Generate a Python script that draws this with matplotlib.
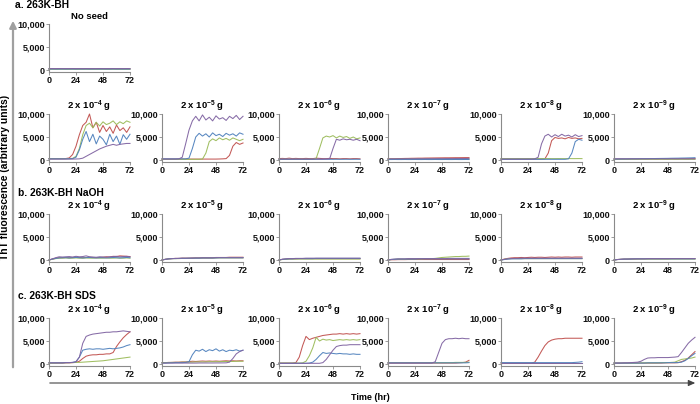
import matplotlib
matplotlib.use("Agg")
import matplotlib.pyplot as plt

plt.rcParams['font.family'] = ['Liberation Sans', 'DejaVu Sans']
plt.rcParams['font.weight'] = 'bold'
plt.rcParams['mathtext.fontset'] = 'custom'
plt.rcParams['mathtext.rm'] = 'Liberation Sans:bold'
plt.rcParams['mathtext.bf'] = 'Liberation Sans:bold'
plt.rcParams['mathtext.default'] = 'rm'

# ---------------- data ----------------
HOURS = [0, 3, 6, 9, 12, 15, 18, 21, 24, 27, 30, 33, 36, 39, 42, 45, 48, 51, 54, 57, 60, 63, 66, 69, 72]
X_TICKS = [0, 24, 48, 72]
Y_TICKS = [0, 5000, 10000]
Y_TICK_LABELS = ["0", "5,000", "10,000"]
EXPONENTS = [-4, -5, -6, -7, -8, -9]
SECTION_LABELS = ["a. 263K-BH", "b. 263K-BH NaOH", "c. 263K-BH SDS"]

# a. no seed
a0_red    = [250, 260, 250, 270, 260, 250, 260, 270, 260, 250, 260, 270, 260, 250, 260, 270, 260, 250, 260, 270, 260, 250, 260, 270, 260]
a0_green  = [150, 160, 150, 150, 160, 150, 150, 160, 150, 150, 160, 150, 150, 160, 150, 150, 160, 150, 150, 160, 150, 150, 160, 150, 150]
a0_blue   = [200, 210, 200, 200, 210, 200, 210, 200, 200, 210, 200, 210, 200, 200, 210, 200, 210, 200, 200, 210, 200, 210, 200, 200, 210]
a0_purple = [300, 310, 300, 320, 300, 310, 300, 320, 300, 310, 300, 320, 300, 310, 300, 320, 300, 310, 300, 320, 300, 310, 300, 320, 300]

# a. 2e-4
a4_red    = [300, 300, 300, 300, 300, 320, 450, 1200, 3000, 5500, 7500, 8200, 10000, 7000, 8200, 6000, 7500, 6200, 7200, 5800, 7600, 6400, 7000, 6000, 7200]
a4_green  = [300, 300, 300, 300, 300, 300, 320, 350, 800, 2500, 5500, 7500, 8000, 7000, 8200, 7400, 8300, 7700, 8000, 8500, 7700, 8300, 7900, 8500, 8200]
a4_blue   = [250, 250, 250, 250, 250, 250, 280, 300, 600, 2200, 4500, 6200, 4000, 5600, 3500, 5200, 4500, 3300, 5600, 4000, 5200, 3400, 5500, 4500, 5600]
a4_purple = [200, 200, 200, 200, 200, 200, 200, 200, 220, 250, 400, 800, 1200, 1600, 2000, 2400, 2700, 3000, 3200, 3400, 3200, 3400, 3500, 3600, 3600]

# a. 2e-5
a5_red    = [200, 200, 200, 200, 200, 200, 200, 200, 200, 200, 200, 200, 200, 200, 200, 200, 200, 220, 250, 300, 1000, 3000, 3800, 3400, 3700]
a5_green  = [150, 150, 150, 150, 150, 150, 150, 150, 150, 150, 150, 150, 200, 1500, 4000, 4600, 4200, 4800, 4400, 4700, 4300, 4800, 4500, 4200, 4500]
a5_blue   = [250, 250, 250, 250, 250, 250, 250, 250, 400, 2500, 5000, 5800, 5200, 5700, 5000, 5900, 5300, 5600, 5100, 5800, 5400, 5700, 5200, 5900, 5600]
a5_purple = [200, 200, 200, 200, 200, 250, 600, 3500, 6500, 8500, 9500, 8500, 9800, 8700, 9300, 8500, 9600, 8900, 9200, 8600, 9500, 9000, 9700, 8800, 9500]

# a. 2e-6
a6_red    = [300, 350, 300, 400, 300, 350, 300, 300, 350, 300, 300, 400, 350, 300, 300, 350, 300, 300, 250, 300, 300, 250, 300, 300, 250]
a6_green  = [150, 150, 150, 150, 150, 150, 150, 150, 150, 150, 150, 300, 2500, 4800, 5200, 5000, 5300, 4800, 5200, 4900, 5100, 4700, 5000, 4600, 4800]
a6_blue   = [150, 150, 160, 150, 150, 160, 150, 150, 160, 150, 150, 160, 150, 150, 160, 150, 150, 160, 150, 150, 160, 150, 150, 160, 150]
a6_purple = [200, 200, 200, 200, 200, 200, 200, 200, 200, 200, 200, 200, 200, 200, 220, 250, 2500, 4500, 4300, 4600, 4400, 4500, 4300, 4500, 4200]

# a. 2e-7
a7_red    = [250, 260, 280, 300, 320, 340, 350, 370, 380, 400, 400, 420, 430, 440, 450, 460, 470, 480, 480, 490, 500, 500, 510, 520, 520]
a7_green  = [200, 200, 210, 200, 200, 210, 200, 200, 210, 200, 200, 210, 200, 200, 210, 200, 200, 210, 200, 200, 210, 200, 200, 210, 200]
a7_blue   = [100, 100, 110, 100, 100, 110, 100, 100, 110, 100, 100, 110, 100, 100, 110, 100, 100, 110, 100, 100, 110, 100, 100, 110, 100]
a7_purple = [250, 260, 250, 270, 260, 270, 280, 270, 280, 290, 280, 290, 300, 290, 300, 310, 300, 310, 320, 310, 320, 330, 320, 330, 340]

# a. 2e-8
a8_red    = [200, 200, 200, 200, 200, 200, 200, 200, 200, 200, 200, 200, 220, 250, 1500, 4200, 4900, 4700, 4800, 4600, 4900, 4700, 4800, 4600, 4700]
a8_green  = [300, 300, 310, 300, 300, 310, 300, 300, 310, 300, 300, 310, 300, 300, 310, 300, 300, 310, 300, 300, 310, 300, 300, 310, 300]
a8_blue   = [150, 150, 150, 150, 150, 150, 150, 150, 150, 150, 150, 150, 150, 150, 150, 150, 150, 150, 150, 150, 250, 1500, 4000, 4500, 4300]
a8_purple = [200, 200, 200, 200, 200, 200, 200, 200, 200, 200, 250, 600, 3500, 5200, 5600, 5000, 5500, 5100, 5600, 5200, 5400, 5000, 5500, 5100, 5300]

# a. 2e-9
a9_red    = [200, 210, 200, 210, 200, 210, 220, 210, 220, 230, 220, 230, 240, 230, 240, 250, 240, 250, 260, 250, 260, 270, 260, 270, 280]
a9_green  = [150, 150, 160, 150, 150, 160, 150, 150, 160, 150, 150, 160, 150, 150, 160, 150, 150, 160, 150, 150, 160, 150, 150, 160, 150]
a9_blue   = [200, 210, 220, 230, 240, 250, 260, 270, 280, 290, 300, 310, 320, 330, 340, 350, 360, 380, 390, 400, 420, 430, 450, 470, 500]
a9_purple = [250, 250, 260, 250, 250, 260, 250, 250, 260, 250, 250, 260, 250, 250, 260, 250, 250, 260, 250, 250, 260, 250, 250, 260, 250]

# b. 2e-4
b4_red    = [0, 200, 400, 500, 500, 550, 500, 550, 600, 550, 500, 550, 600, 550, 500, 550, 600, 700, 650, 800, 750, 900, 850, 800, 750]
b4_green  = [0, 150, 300, 400, 400, 450, 400, 400, 450, 400, 400, 450, 400, 400, 450, 400, 400, 450, 400, 400, 450, 400, 400, 450, 400]
b4_blue   = [0, 200, 350, 450, 500, 500, 450, 500, 550, 500, 450, 500, 550, 500, 450, 500, 500, 450, 500, 550, 500, 450, 500, 550, 500]
b4_purple = [0, 250, 500, 700, 650, 700, 750, 650, 800, 700, 750, 900, 700, 650, 600, 700, 650, 600, 700, 750, 800, 700, 750, 800, 700]

# b. 2e-5
b5_red    = [0, 150, 250, 300, 350, 350, 400, 400, 400, 450, 450, 450, 500, 500, 500, 500, 550, 550, 550, 550, 600, 600, 600, 600, 600]
b5_green  = [0, 150, 250, 300, 300, 300, 350, 350, 350, 350, 400, 400, 400, 400, 400, 400, 450, 450, 450, 450, 450, 450, 450, 450, 450]
b5_blue   = [0, 150, 250, 300, 300, 350, 350, 350, 400, 400, 400, 400, 450, 450, 450, 450, 450, 500, 500, 500, 500, 500, 500, 500, 500]
b5_purple = [0, 150, 250, 300, 350, 350, 400, 400, 400, 400, 450, 450, 450, 450, 450, 450, 500, 500, 500, 500, 500, 500, 500, 500, 500]

# b. 2e-6
b6_red    = [0, 150, 200, 250, 250, 250, 300, 300, 300, 300, 300, 300, 300, 300, 300, 300, 300, 300, 300, 300, 300, 300, 300, 300, 300]
b6_green  = [0, 100, 150, 200, 200, 200, 200, 200, 200, 200, 200, 200, 200, 200, 200, 200, 200, 200, 200, 200, 200, 200, 200, 200, 200]
b6_blue   = [0, 150, 200, 250, 250, 300, 300, 300, 300, 300, 300, 350, 350, 350, 350, 350, 350, 350, 350, 350, 350, 350, 350, 350, 350]
b6_purple = [0, 150, 250, 300, 300, 350, 350, 350, 400, 400, 400, 400, 400, 400, 400, 400, 400, 400, 400, 400, 400, 400, 400, 400, 400]

# b. 2e-7
b7_red    = [0, 50, 50, 80, 80, 80, 100, 100, 100, 100, 100, 100, 100, 100, 100, 100, 100, 100, 100, 100, 100, 100, 100, 100, 100]
b7_green  = [0, 100, 150, 200, 200, 200, 250, 250, 250, 250, 250, 300, 300, 300, 350, 450, 550, 600, 650, 700, 750, 750, 800, 800, 850]
b7_blue   = [0, 100, 150, 200, 200, 200, 200, 200, 200, 250, 250, 250, 250, 250, 250, 250, 250, 250, 250, 250, 250, 250, 250, 250, 250]
b7_purple = [0, 150, 200, 250, 250, 250, 300, 300, 300, 300, 300, 300, 300, 300, 300, 300, 300, 300, 350, 350, 350, 350, 350, 350, 350]

# b. 2e-8
b8_red    = [0, 200, 350, 450, 500, 500, 550, 500, 550, 600, 550, 600, 600, 550, 600, 650, 600, 650, 600, 650, 650, 600, 650, 650, 650]
b8_green  = [0, 150, 250, 300, 300, 300, 300, 300, 300, 300, 300, 300, 300, 300, 300, 300, 300, 300, 300, 300, 300, 300, 300, 300, 300]
b8_blue   = [0, 100, 200, 250, 250, 250, 250, 300, 300, 300, 300, 300, 300, 300, 300, 300, 300, 300, 300, 300, 300, 300, 300, 300, 300]
b8_purple = [0, 150, 250, 300, 350, 350, 400, 400, 400, 400, 400, 400, 400, 400, 400, 400, 400, 400, 400, 400, 400, 400, 400, 400, 400]

# b. 2e-9
b9_red    = [0, 100, 150, 200, 200, 200, 200, 250, 250, 250, 250, 250, 250, 250, 250, 250, 250, 300, 300, 300, 300, 300, 300, 300, 300]
b9_green  = [0, 100, 150, 150, 200, 200, 200, 200, 200, 200, 200, 200, 200, 200, 200, 200, 200, 200, 200, 200, 200, 200, 200, 200, 200]
b9_blue   = [0, 100, 150, 200, 200, 200, 250, 250, 250, 250, 250, 250, 250, 250, 250, 250, 250, 250, 250, 250, 250, 250, 250, 250, 250]
b9_purple = [0, 100, 150, 200, 200, 250, 250, 250, 250, 250, 300, 300, 300, 300, 300, 300, 300, 300, 300, 300, 300, 300, 300, 300, 300]

# c. 2e-4
c4_red    = [200, 200, 200, 200, 200, 250, 250, 300, 350, 600, 1200, 1700, 1900, 2000, 2000, 2100, 2100, 2200, 2200, 2500, 3800, 4800, 5700, 6400, 7000]
c4_green  = [200, 200, 220, 250, 250, 280, 300, 300, 350, 350, 400, 450, 500, 550, 600, 650, 700, 800, 900, 1000, 1100, 1200, 1300, 1400, 1500]
c4_blue   = [250, 250, 250, 250, 250, 300, 300, 350, 500, 1500, 3000, 3200, 3300, 3200, 3300, 3300, 3200, 3300, 3400, 3300, 3400, 3500, 3700, 4000, 4200]
c4_purple = [250, 250, 250, 250, 250, 300, 300, 350, 500, 1500, 4500, 6000, 6300, 6500, 6600, 6700, 6800, 6900, 6900, 7000, 7000, 7100, 7200, 7100, 7000]

# c. 2e-5
c5_red    = [300, 300, 350, 350, 400, 400, 450, 450, 500, 600, 550, 600, 650, 600, 650, 600, 650, 600, 650, 700, 650, 700, 650, 700, 700]
c5_green  = [300, 300, 300, 350, 350, 350, 400, 400, 400, 400, 450, 450, 450, 450, 500, 500, 500, 500, 550, 550, 550, 550, 600, 600, 600]
c5_blue   = [200, 200, 250, 250, 300, 300, 300, 350, 500, 2000, 3000, 2800, 3200, 2700, 3100, 2900, 3300, 2800, 3100, 2700, 3000, 2900, 3100, 2800, 3000]
c5_purple = [200, 200, 200, 200, 200, 200, 200, 200, 200, 200, 200, 220, 220, 220, 220, 220, 230, 230, 240, 250, 400, 1200, 2200, 2700, 3000]

# c. 2e-6
c6_red    = [200, 200, 200, 200, 200, 300, 1500, 4000, 6000, 5300, 5600, 5800, 6000, 6200, 6300, 6400, 6500, 6500, 6600, 6500, 6600, 6500, 6600, 6500, 6600]
c6_green  = [200, 200, 200, 200, 200, 200, 200, 250, 600, 1800, 3500, 5800, 5000, 5400, 5200, 5300, 5100, 5200, 5300, 5200, 5300, 5200, 5300, 5200, 5300]
c6_blue   = [150, 150, 150, 150, 150, 150, 150, 150, 150, 200, 400, 1000, 1800, 2500, 2300, 2400, 2300, 2200, 2300, 2200, 2200, 2100, 2200, 2100, 2100]
c6_purple = [150, 150, 150, 150, 150, 150, 150, 150, 150, 150, 150, 150, 150, 300, 1000, 2000, 3000, 3800, 4000, 4100, 4100, 4200, 4200, 4200, 4200]

# c. 2e-7
c7_red    = [200, 200, 200, 200, 200, 200, 200, 200, 200, 200, 200, 200, 200, 200, 200, 200, 200, 200, 200, 200, 200, 250, 300, 400, 800]
c7_green  = [300, 300, 300, 300, 300, 300, 300, 300, 300, 300, 300, 300, 300, 300, 300, 300, 300, 300, 300, 300, 350, 350, 350, 350, 400]
c7_blue   = [250, 250, 250, 250, 250, 250, 250, 250, 250, 250, 250, 250, 250, 250, 250, 250, 250, 250, 250, 250, 250, 250, 250, 250, 300]
c7_purple = [200, 200, 200, 200, 200, 200, 200, 200, 200, 200, 200, 200, 200, 200, 500, 2500, 4500, 5300, 5500, 5500, 5600, 5500, 5600, 5500, 5500]

# c. 2e-8
c8_red    = [200, 200, 200, 200, 200, 200, 200, 200, 200, 200, 400, 1500, 2800, 4000, 4800, 5200, 5400, 5500, 5500, 5600, 5600, 5600, 5600, 5600, 5600]
c8_green  = [200, 200, 200, 200, 200, 200, 200, 200, 200, 200, 200, 200, 200, 200, 200, 200, 200, 200, 200, 200, 200, 200, 200, 200, 200]
c8_blue   = [300, 300, 300, 300, 300, 300, 300, 300, 300, 300, 300, 300, 300, 300, 300, 300, 300, 300, 300, 300, 300, 300, 350, 400, 500]
c8_purple = [150, 150, 150, 150, 150, 150, 150, 150, 150, 150, 150, 150, 150, 150, 150, 150, 150, 150, 150, 150, 150, 150, 150, 150, 150]

# c. 2e-9
c9_red    = [200, 200, 200, 200, 200, 200, 200, 200, 200, 200, 200, 200, 200, 200, 200, 250, 250, 250, 250, 300, 500, 800, 1300, 2000, 2700]
c9_green  = [200, 200, 200, 200, 200, 200, 200, 200, 250, 250, 250, 250, 250, 250, 300, 300, 300, 350, 400, 700, 1000, 1100, 1200, 1300, 1500]
c9_blue   = [200, 200, 200, 200, 200, 200, 200, 200, 200, 200, 250, 250, 250, 250, 250, 250, 300, 300, 300, 300, 400, 700, 1200, 1800, 2300]
c9_purple = [200, 200, 200, 250, 250, 300, 350, 400, 600, 1000, 1300, 1350, 1350, 1400, 1400, 1400, 1400, 1450, 1500, 1600, 2500, 3500, 4500, 5200, 5800]

COLORS = {"red": "#C0504D", "green": "#9BBB59", "blue": "#4F81BD", "purple": "#8064A2"}

ROW_A = [
    dict(red=a4_red, green=a4_green, blue=a4_blue, purple=a4_purple),
    dict(red=a5_red, green=a5_green, blue=a5_blue, purple=a5_purple),
    dict(red=a6_red, green=a6_green, blue=a6_blue, purple=a6_purple),
    dict(red=a7_red, green=a7_green, blue=a7_blue, purple=a7_purple),
    dict(red=a8_red, green=a8_green, blue=a8_blue, purple=a8_purple),
    dict(red=a9_red, green=a9_green, blue=a9_blue, purple=a9_purple),
]
ROW_B = [
    dict(red=b4_red, green=b4_green, blue=b4_blue, purple=b4_purple),
    dict(red=b5_red, green=b5_green, blue=b5_blue, purple=b5_purple),
    dict(red=b6_red, green=b6_green, blue=b6_blue, purple=b6_purple),
    dict(red=b7_red, green=b7_green, blue=b7_blue, purple=b7_purple),
    dict(red=b8_red, green=b8_green, blue=b8_blue, purple=b8_purple),
    dict(red=b9_red, green=b9_green, blue=b9_blue, purple=b9_purple),
]
ROW_C = [
    dict(red=c4_red, green=c4_green, blue=c4_blue, purple=c4_purple),
    dict(red=c5_red, green=c5_green, blue=c5_blue, purple=c5_purple),
    dict(red=c6_red, green=c6_green, blue=c6_blue, purple=c6_purple),
    dict(red=c7_red, green=c7_green, blue=c7_blue, purple=c7_purple),
    dict(red=c8_red, green=c8_green, blue=c8_blue, purple=c8_purple),
    dict(red=c9_red, green=c9_green, blue=c9_blue, purple=c9_purple),
]
NOSEED = dict(red=a0_red, green=a0_green, blue=a0_blue, purple=a0_purple)

# ---------------- layout ----------------
W, H = 700, 404
fig = plt.figure(figsize=(W / 100, H / 100), dpi=100)

COL_LEFT = [49, 162, 279, 388, 501, 614]
AX_W = 81
ROW_TOP = [114, 214, 318]   # pixel y of the 10,000 level
TOP_A0 = 24
Y_SPAN = 46                 # pixels for 0..10000
YMIN = -500

FS = 6.5
TITLE_FS = 6.8
LABEL_FS = 7.4
AXIS_COLOR = "#8a8a8a"


def make_axes(left_px, top_px, title=None):
    h = Y_SPAN * (10000 - YMIN) / 10000
    bottom_px = top_px + h
    ax = fig.add_axes([left_px / W, 1 - bottom_px / H, AX_W / W, h / H])
    ax.set_xlim(0, 72)
    ax.set_ylim(YMIN, 10000)
    ax.set_xticks(X_TICKS)
    ax.set_xticklabels([str(t) for t in X_TICKS], fontsize=FS, fontweight='bold')
    ax.set_yticks(Y_TICKS)
    ax.set_yticklabels(Y_TICK_LABELS, fontsize=FS, fontweight='bold')
    for s in ("top", "right"):
        ax.spines[s].set_visible(False)
    for s in ("left", "bottom"):
        ax.spines[s].set_color(AXIS_COLOR)
        ax.spines[s].set_linewidth(0.8)
    ax.tick_params(axis='both', length=2, width=0.6, color=AXIS_COLOR, pad=1, labelcolor="#111111")
    ax.patch.set_alpha(0)
    if title:
        ax.set_title(title, fontsize=TITLE_FS, fontweight='bold', pad=3.5)
    return ax


def draw(ax, series):
    for key in ("red", "green", "blue", "purple"):
        ax.plot(HOURS, series[key], color=COLORS[key], lw=0.75, alpha=0.95, clip_on=False)


ax0 = make_axes(COL_LEFT[0], TOP_A0, "No seed")
draw(ax0, NOSEED)

for row, data in zip(ROW_TOP, (ROW_A, ROW_B, ROW_C)):
    for left, exp, series in zip(COL_LEFT, EXPONENTS, data):
        ax = make_axes(left, row, r"2 x 10$^{%d}$ g" % exp)
        draw(ax, series)

# section labels
fig.text(15 / W, 1 - 5 / H, SECTION_LABELS[0], fontsize=LABEL_FS, fontweight='bold', va='center', ha='left')
fig.text(18 / W, 1 - 193 / H, SECTION_LABELS[1], fontsize=LABEL_FS, fontweight='bold', va='center', ha='left')
fig.text(18 / W, 1 - 296 / H, SECTION_LABELS[2], fontsize=LABEL_FS, fontweight='bold', va='center', ha='left')

# vertical arrow + label
fig.add_artist(matplotlib.patches.FancyArrowPatch(
    (13 / W, 1 - 370 / H), (13 / W, 1 - 18 / H), transform=fig.transFigure,
    arrowstyle='-|>,head_length=4,head_width=2', color="#a0a0a0", lw=1.6, mutation_scale=1))
fig.text(5 / W, 1 - 177 / H, "ThT fluorescence (arbitrary units)", rotation=90,
         fontsize=LABEL_FS, fontweight='bold', va='center', ha='center')

# horizontal arrow + label
fig.add_artist(matplotlib.patches.FancyArrowPatch(
    (47 / W, 1 - 383 / H), (698 / W, 1 - 383 / H), transform=fig.transFigure,
    arrowstyle='-|>,head_length=4,head_width=1.8', color="#444444", lw=0.8, mutation_scale=1))
fig.text(370 / W, 1 - 398 / H, "Time (hr)", fontsize=FS, fontweight='bold', va='center', ha='center')

fig.savefig("out.png", dpi=100)
